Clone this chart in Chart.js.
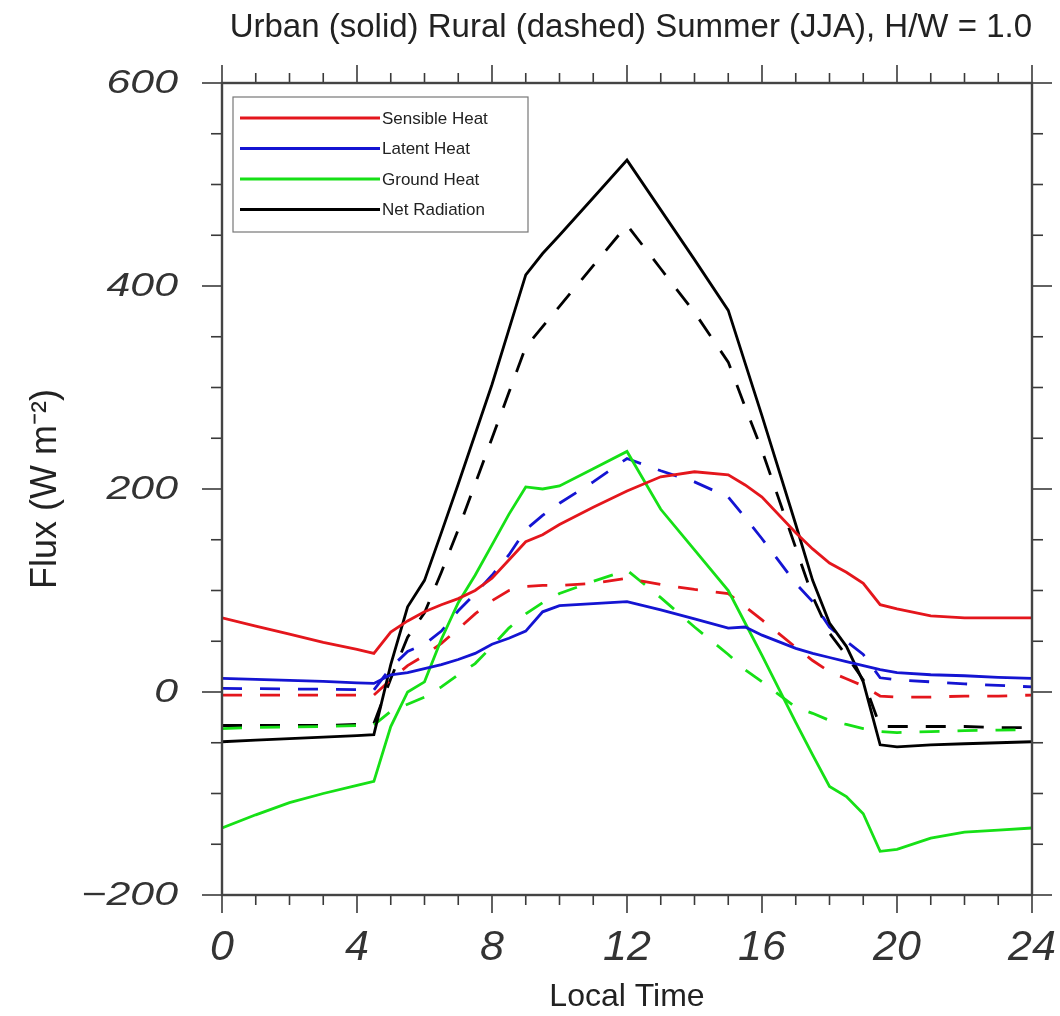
<!DOCTYPE html>
<html>
<head>
<meta charset="utf-8">
<script src="https://cdn.jsdelivr.net/npm/chart.js@4.4.1/dist/chart.umd.min.js"></script>
<style>
  html, body { margin: 0; padding: 0; background: #ffffff; }
  #wrap { width: 1060px; height: 1016px; }
</style>
</head>
<body>
<div id="wrap"><canvas id="flux" width="1060" height="1016"></canvas></div>
<script>
// Local time (hours) shared by every series
const hours = [0, 1, 2, 3, 4, 4.5, 5, 5.5, 6, 6.5, 7, 7.5, 8, 8.5, 9, 9.5, 10, 11, 12,
               13, 14, 15, 15.5, 16, 17, 17.5, 18, 18.5, 19, 19.5, 20, 21, 22, 23, 24];

// Urban canyon fluxes (W m-2), solid lines
const urbanSensible = [73, 65, 57, 49, 42, 38, 59, 70, 79, 86, 92, 100, 112, 130, 148, 155, 165, 182, 198,
                       212, 217, 214, 204, 192, 157, 141, 127, 118, 107, 86, 82, 75, 73, 73, 73];
const urbanLatent   = [13.5, 12.5, 11.5, 10.5, 9, 8.5, 17, 19, 23, 27, 32, 38, 47, 53, 60, 79, 85, 87, 89,
                       81, 72, 63, 64, 56, 43, 38, 34, 30, 26, 22, 19, 17, 16, 14.5, 13.5];
const urbanGround   = [-134, -121, -109, -100, -92, -88, -34, 0, 10, 52, 88, 115, 145, 175, 202, 200, 203, 220, 237,
                       180, 140, 100, 68, 36, -30, -62, -93, -103, -120, -157, -155, -144, -138, -136, -134];
const urbanNet      = [-49, -47.5, -46, -44.5, -43, -42, 27, 84, 110, 157, 205, 254, 303, 357, 411, 432, 450, 487, 524,
                       475, 426, 376, 324, 272, 165, 110, 68, 45, 10, -52, -54, -52, -51, -50, -49];

// Rural fluxes (W m-2), dashed lines
const ruralSensible = [-3, -3, -3, -3, -3, -3, 12, 26, 36, 48, 62, 77, 90, 100, 104, 105, 105, 107, 112,
                       106, 101, 97, 84, 71, 44, 31, 20, 13, 6, -4, -5, -5, -4, -4, -3];
const ruralLatent   = [3.5, 3.3, 3, 2.7, 2.3, 2, 24, 40, 47, 60, 80, 97, 115, 135, 160, 174, 186, 207, 230,
                       218, 207, 192, 172, 151, 107, 89, 64, 50, 37, 14, 12, 10, 8, 6.5, 5];
const ruralGround   = [-36, -35, -34.5, -34, -33, -32.5, -19, -12, -5, 5, 17, 28, 45, 63, 77, 88, 97, 109, 120,
                       93, 64, 37, 22, 10, -15, -21, -28, -32, -36, -39, -40, -39, -38, -37.5, -37];
const ruralNet      = [-33, -33, -33, -33, -32, -31, 13, 54, 78, 118, 160, 205, 250, 295, 340, 360, 380, 420, 460,
                       417, 374, 325, 281, 238, 142, 94, 58, 36, 12, -34, -34, -34, -34, -35, -35];

// Legend entries and colours
const componentNames  = ['Sensible Heat', 'Latent Heat', 'Ground Heat', 'Net Radiation'];
const componentColors = ['#e4161c', '#1414d2', '#16e016', '#000000'];

// Axis ticks
const xTickValues = [0, 4, 8, 12, 16, 20, 24];
const yTickValues = [-200, 0, 200, 400, 600];
const yTickLabels = ['\u2212200', '0', '200', '400', '600'];

const titleText = 'Urban (solid) Rural (dashed) Summer (JJA), H/W = 1.0';

function toPoints(values) {
  return hours.map((h, i) => ({ x: h, y: values[i] }));
}

function makeSet(label, values, color, dashed) {
  return {
    label: label,
    data: toPoints(values),
    borderColor: color,
    backgroundColor: color,
    borderWidth: 2.8,
    borderDash: dashed ? [20, 18] : [],
    pointRadius: 0,
    tension: 0,
    fill: false,
    urban: !dashed
  };
}

const datasets = [
  makeSet(componentNames[0], urbanSensible, componentColors[0], false),
  makeSet(componentNames[1], urbanLatent,   componentColors[1], false),
  makeSet(componentNames[2], urbanGround,   componentColors[2], false),
  makeSet(componentNames[3], urbanNet,      componentColors[3], false),
  makeSet(componentNames[0] + ' (rural)', ruralSensible, componentColors[0], true),
  makeSet(componentNames[1] + ' (rural)', ruralLatent,   componentColors[1], true),
  makeSet(componentNames[2] + ' (rural)', ruralGround,   componentColors[2], true),
  makeSet(componentNames[3] + ' (rural)', ruralNet,      componentColors[3], true)
];

// Frame, outward tick marks on all four sides and stretched y labels
const framePlugin = {
  id: 'frame',
  afterDatasetsDraw(chart) {
    const { ctx, chartArea: a, scales: { x, y } } = chart;
    ctx.save();
    ctx.strokeStyle = '#3a3a3a';
    ctx.lineWidth = 1.6;
    const seg = (x1, y1, x2, y2) => { ctx.beginPath(); ctx.moveTo(x1, y1); ctx.lineTo(x2, y2); ctx.stroke(); };
    for (let t = x.min; t <= x.max + 1e-9; t += 1) {
      const px = x.getPixelForValue(t);
      const len = (t % 4 === 0) ? 18 : 10;
      seg(px, a.bottom, px, a.bottom + len);
      seg(px, a.top, px, a.top - len);
    }
    for (let v = y.min; v <= y.max + 1e-9; v += 50) {
      const py = y.getPixelForValue(v);
      const len = (v % 200 === 0) ? 20 : 11;
      seg(a.left, py, a.left - len, py);
      seg(a.right, py, a.right + len, py);
    }
    ctx.lineWidth = 2.4;
    ctx.strokeStyle = '#444444';
    ctx.strokeRect(a.left, a.top, a.right - a.left, a.bottom - a.top);

    ctx.fillStyle = '#333333';
    ctx.font = 'italic 33px "Liberation Sans", Arial, sans-serif';
    ctx.textAlign = 'right';
    ctx.textBaseline = 'middle';
    yTickValues.forEach((v, i) => {
      const py = y.getPixelForValue(v);
      ctx.save();
      ctx.translate(a.left - 44, py + 1);
      ctx.scale(1.3, 1);
      ctx.fillText(yTickLabels[i], 0, 0);
      ctx.restore();
    });
    ctx.restore();
  }
};

// Boxed legend inside the upper-left corner of the plot
const boxLegendPlugin = {
  id: 'boxLegend',
  afterDraw(chart) {
    const { ctx, chartArea: a } = chart;
    const bx = a.left + 11, by = a.top + 14, bw = 295, bh = 135;
    ctx.save();
    ctx.fillStyle = '#ffffff';
    ctx.fillRect(bx, by, bw, bh);
    ctx.strokeStyle = '#777777';
    ctx.lineWidth = 1.2;
    ctx.strokeRect(bx, by, bw, bh);
    ctx.font = '17px "Liberation Sans", Arial, sans-serif';
    ctx.textAlign = 'left';
    ctx.textBaseline = 'middle';
    const urbanSets = chart.data.datasets.filter(d => d.urban);
    urbanSets.forEach((d, i) => {
      const ly = by + 21 + i * 30.5;
      ctx.strokeStyle = d.borderColor;
      ctx.lineWidth = 2.8;
      ctx.beginPath();
      ctx.moveTo(bx + 7, ly);
      ctx.lineTo(bx + 147, ly);
      ctx.stroke();
      ctx.fillStyle = '#222222';
      ctx.fillText(d.label, bx + 149, ly + 1);
    });
    ctx.restore();
  }
};

new Chart(document.getElementById('flux'), {
  type: 'line',
  data: { datasets: datasets },
  options: {
    responsive: false,
    animation: false,
    devicePixelRatio: 1,
    layout: { padding: { top: 0, right: 28, left: 0, bottom: 0 } },
    plugins: {
      legend: { display: false },
      tooltip: { enabled: false },
      title: {
        display: true,
        text: titleText,
        align: 'end',
        color: '#222222',
        font: { family: '"Liberation Sans", Arial, sans-serif', size: 33, weight: 'normal', lineHeight: 1.2 },
        padding: { top: 8, bottom: 35.4 }
      }
    },
    scales: {
      x: {
        type: 'linear',
        min: 0,
        max: 24,
        afterBuildTicks: (s) => { s.ticks = xTickValues.map(v => ({ value: v })); },
        afterFit: (s) => { s.height = 121; s.paddingLeft = 0; s.paddingRight = 0; },
        grid: { display: false, drawTicks: false },
        border: { display: false },
        ticks: {
          color: '#333333',
          padding: 27,
          maxRotation: 0,
          autoSkip: false,
          font: { family: '"Liberation Sans", Arial, sans-serif', size: 43, style: 'italic' },
          callback: (v) => String(v)
        },
        title: {
          display: true,
          text: 'Local Time',
          color: '#222222',
          font: { family: '"Liberation Sans", Arial, sans-serif', size: 32 },
          padding: { top: 0, bottom: 0 }
        }
      },
      y: {
        type: 'linear',
        min: -200,
        max: 600,
        afterBuildTicks: (s) => { s.ticks = yTickValues.map(v => ({ value: v })); },
        afterFit: (s) => { s.width = 222; s.paddingTop = 0; s.paddingBottom = 0; },
        grid: { display: false, drawTicks: false },
        border: { display: false },
        ticks: { display: false },
        title: {
          display: true,
          text: 'Flux (W m\u207B\u00B2)',
          color: '#222222',
          font: { family: '"Liberation Sans", Arial, sans-serif', size: 36 },
          padding: { top: 24, bottom: 0 }
        }
      }
    }
  },
  plugins: [framePlugin, boxLegendPlugin]
});
</script>
</body>
</html>
